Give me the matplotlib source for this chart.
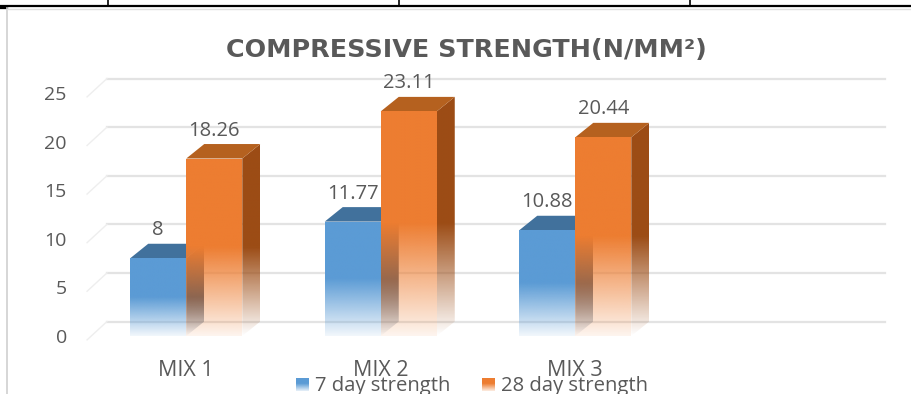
import numpy as np
import matplotlib
matplotlib.use("Agg")
import matplotlib.pyplot as plt
from matplotlib.patches import Polygon
from matplotlib.colors import to_rgb
from matplotlib.lines import Line2D

plt.rcParams['font.family'] = ['Open Sans', 'DejaVu Sans']

# ---- data ----
categories = ["MIX 1", "MIX 2", "MIX 3"]
series_names = ["7 day strength", "28 day strength"]
day7 = [8, 11.77, 10.88]
day28 = [18.26, 23.11, 20.44]
value_labels_7 = ["8", "11.77", "10.88"]
value_labels_28 = ["18.26", "23.11", "20.44"]
yticks = [0, 5, 10, 15, 20, 25]
title = "COMPRESSIVE STRENGTH(N/MM²)"

W, H = 912, 394
fig = plt.figure(figsize=(W / 100, H / 100), dpi=100)
fig.patch.set_facecolor("white")

TXT = "#595959"
BLUE, BLUE_TOP, BLUE_SIDE = "#5b9bd5", "#41719c", "#34506e"
ORANGE, ORANGE_TOP, ORANGE_SIDE = "#ed7d31", "#b5611f", "#9c4c15"

# page frame (table rules and chart border) in pixel coordinates
frame = fig.add_axes([0, 0, 1, 1])
frame.set_xlim(0, W)
frame.set_ylim(H, 0)
frame.axis("off")
frame.add_line(Line2D([0, W], [6, 6], color="black", lw=1.6))
for xv in (108, 399, 690):
    frame.add_line(Line2D([xv, xv], [0, 6], color="black", lw=1.2))
frame.add_line(Line2D([0, 7], [7.5, 7.5], color="black", lw=1.6))
frame.add_line(Line2D([7.5, 7.5], [8, H], color="#d0d0d0", lw=1.2))
frame.add_line(Line2D([7.5, W], [8.5, 8.5], color="#e0e0e0", lw=1.0))

# plotting axes: front plane, value scale
ax = fig.add_axes([89 / W, 58 / H, 778 / W, 243 / H])
ax.set_xlim(-0.5, 3.5)
ax.set_ylim(0, 25)
ax.set_facecolor("none")
for s in ax.spines.values():
    s.set_visible(False)

dx = 0.0925   # depth offset along x (category units)
dy = 1.49     # depth offset along y (value units)
bw = 0.288    # bar width

# back-wall gridlines and side-wall floor strokes
for v in yticks:
    ax.add_line(Line2D([-0.5 + dx, 3.5 + dx], [v + dy, v + dy], color="#e3e3e3",
                       lw=1.6, zorder=0.5, clip_on=False))
    ax.add_line(Line2D([-0.5 - 0.01, -0.5 + dx], [v - 0.4, v + dy], color="#eeeeee",
                       lw=1.0, zorder=0.5, clip_on=False))


def gradient_face(verts, color, height, a_bottom, fade_frac, zorder):
    """Fill a polygon with a colour whose opacity fades towards the floor."""
    verts = np.asarray(verts, dtype=float)
    poly = Polygon(verts, closed=True, facecolor="none", edgecolor="none",
                   transform=ax.transData)
    ax.add_patch(poly)
    x0, x1 = verts[:, 0].min(), verts[:, 0].max()
    y0, y1 = verts[:, 1].min(), verts[:, 1].max()
    n = 300
    ys = np.linspace(y0, y1, n)
    t = np.clip(ys / max(height * fade_frac, 1e-6), 0, 1)
    alpha = a_bottom + (1 - a_bottom) * t
    rgba = np.zeros((n, 2, 4))
    rgba[..., :3] = to_rgb(color)
    rgba[..., 3] = alpha[:, None]
    im = ax.imshow(rgba, extent=[x0, x1, y0, y1], origin="lower", aspect="auto",
                   interpolation="bilinear", zorder=zorder)
    im.set_clip_path(poly)
    im.set_clip_on(True)


def bar3d(xl, v, front, top, side, z, fade):
    xr = xl + bw
    # side face
    gradient_face([(xr, 0), (xr + dx, dy), (xr + dx, v + dy), (xr, v)],
                  side, v, 0.0, fade, z)
    # top face
    poly = Polygon([(xl, v), (xr, v), (xr + dx, v + dy), (xl + dx, v + dy)],
                   closed=True, facecolor=top, edgecolor="none", zorder=z + 0.1,
                   clip_on=False)
    ax.add_patch(poly)
    # front face
    gradient_face([(xl, 0), (xr, 0), (xr, v), (xl, v)], front, v, 0.08, fade,
                  z + 0.2)


for i in range(len(categories)):
    bar3d(i - bw, day7[i], BLUE, BLUE_TOP, BLUE_SIDE, 2 + i * 2, 0.5)
    bar3d(i, day28[i], ORANGE, ORANGE_TOP, ORANGE_SIDE, 3 + i * 2, 0.5)
    ax.text(i - bw / 2, day7[i] + dy + 0.35, value_labels_7[i], ha="center",
            va="bottom", fontsize=14.5, color=TXT, zorder=10)
    ax.text(i + bw / 2, day28[i] + dy + 0.35, value_labels_28[i], ha="center",
            va="bottom", fontsize=14.5, color=TXT, zorder=10)

ax.set_xlim(-0.5, 3.5)
ax.set_ylim(0, 25)
ax.set_yticks(yticks)
ax.set_yticklabels([str(v) for v in yticks])
ax.tick_params(axis="y", length=0, pad=16, labelsize=14, labelcolor=TXT)
ax.set_xticks(range(len(categories)))
ax.set_xticklabels(categories)
ax.tick_params(axis="x", length=0, pad=17.5, labelsize=15.5, labelcolor=TXT)

# title
fig.text(466 / W, 1 - 50 / H, title, ha="center", va="center", fontsize=18.3,
         fontweight="bold", color=TXT, family=["DejaVu Sans"])

# legend
leg_items = [(296, BLUE, series_names[0]), (482, ORANGE, series_names[1])]
for x0, col, name in leg_items:
    n = 50
    rgba = np.zeros((n, 2, 4))
    rgba[..., :3] = to_rgb(col)
    rgba[..., 3] = np.clip(np.linspace(0.15, 1.6, n), 0, 1)[:, None]
    frame.imshow(rgba, extent=[x0, x0 + 13, 391, 378], origin="lower",
                 aspect="auto", zorder=3)
    frame.text(x0 + 19, 391.5, name, ha="left", va="baseline", fontsize=14.6,
               color=TXT)
frame.set_xlim(0, W)
frame.set_ylim(H, 0)

fig.savefig("out.png", dpi=100, facecolor="white")
